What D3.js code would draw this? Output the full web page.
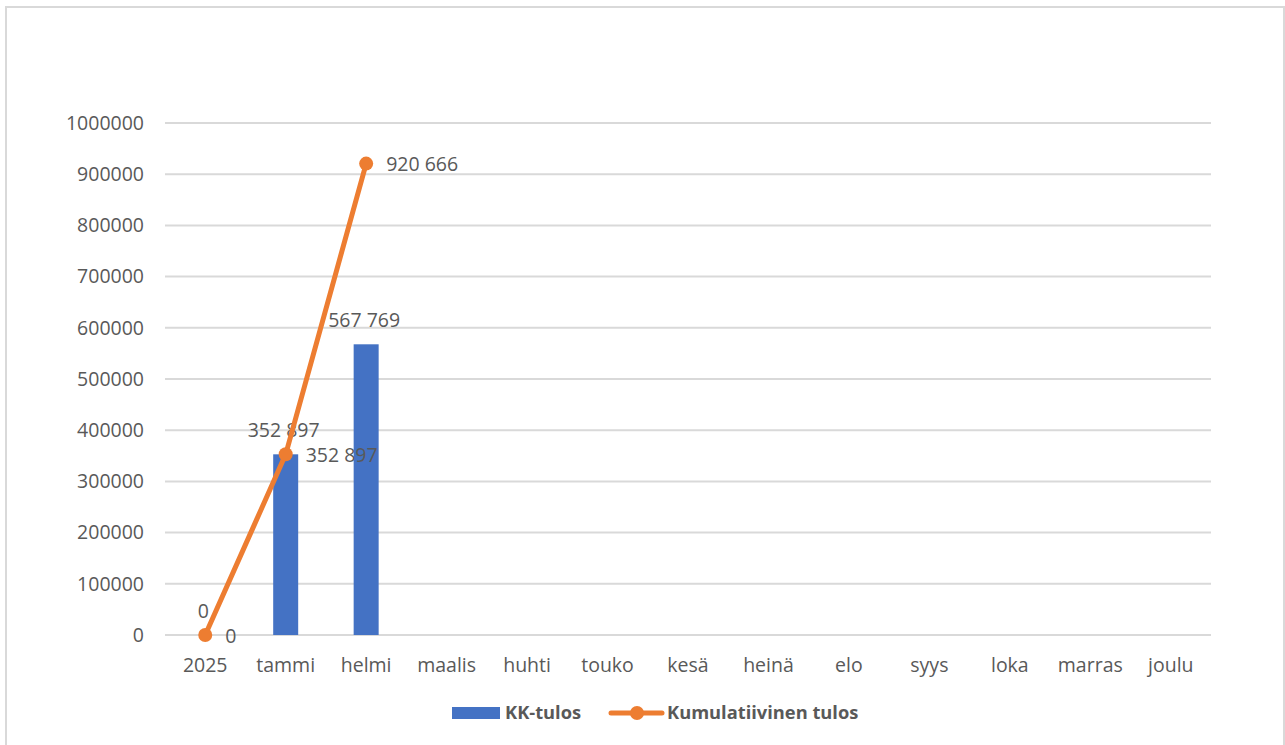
<!DOCTYPE html>
<html>
<head>
<meta charset="utf-8">
<script src="https://cdn.jsdelivr.net/npm/d3@7"></script>
<style>
  body { margin: 0; background: #fff; }
  text { font-family: "Open Sans", "Noto Sans", sans-serif; fill: #595959; }
</style>
</head>
<body>
<div id="chart"></div>
<script>
// data
const months = ["2025", "tammi", "helmi", "maalis", "huhti", "touko", "kesä", "heinä", "elo", "syys", "loka", "marras", "joulu"];
const kkTulos = [0, 352897, 567769, null, null, null, null, null, null, null, null, null, null];
const kumulatiivinen = [0, 352897, 920666, null, null, null, null, null, null, null, null, null, null];
const yTicks = [0, 100000, 200000, 300000, 400000, 500000, 600000, 700000, 800000, 900000, 1000000];

const W = 1285, H = 745;
const plot = { left: 165, right: 1211, top: 123, bottom: 635 };
const fontSize = "19.5px";

const svg = d3.select("#chart").append("svg")
  .attr("width", W)
  .attr("height", H);

// chart frame
svg.append("rect")
  .attr("x", 6).attr("y", 7)
  .attr("width", 1278).attr("height", 760)
  .attr("fill", "#fff")
  .attr("stroke", "#d9d9d9")
  .attr("stroke-width", 2);

const x = d3.scaleBand()
  .domain(months)
  .range([plot.left, plot.right])
  .padding(0);

const y = d3.scaleLinear()
  .domain([0, 1000000])
  .range([plot.bottom, plot.top]);

const fi = d3.formatLocale({ decimal: ",", thousands: " ", grouping: [3], currency: ["", " €"] });
const fmt = fi.format(",d");

// gridlines
svg.append("g")
  .selectAll("line")
  .data(yTicks)
  .join("line")
    .attr("x1", plot.left)
    .attr("x2", plot.right)
    .attr("y1", d => y(d))
    .attr("y2", d => y(d))
    .attr("stroke", "#d9d9d9")
    .attr("stroke-width", 2);

// y axis labels
svg.append("g")
  .selectAll("text")
  .data(yTicks)
  .join("text")
    .attr("x", 144)
    .attr("y", d => y(d))
    .attr("dy", "0.35em")
    .attr("text-anchor", "end")
    .style("font-size", fontSize)
    .text(d => d);

// x axis labels
svg.append("g")
  .selectAll("text")
  .data(months)
  .join("text")
    .attr("x", d => x(d) + x.bandwidth() / 2)
    .attr("y", 665)
    .attr("dy", "0.35em")
    .attr("text-anchor", "middle")
    .style("font-size", fontSize)
    .text(d => d);

const barW = 25;
const barData = months.map((m, i) => ({ m, v: kkTulos[i] })).filter(d => d.v !== null);
const lineData = months.map((m, i) => ({ m, v: kumulatiivinen[i] })).filter(d => d.v !== null);
const cx = d => x(d.m) + x.bandwidth() / 2;

// bars
svg.append("g")
  .selectAll("rect")
  .data(barData)
  .join("rect")
    .attr("x", d => cx(d) - barW / 2)
    .attr("y", d => y(d.v))
    .attr("width", barW)
    .attr("height", d => y(0) - y(d.v))
    .attr("fill", "#4472C4");

// bar labels
svg.append("g")
  .selectAll("text")
  .data(barData)
  .join("text")
    .attr("x", d => cx(d) - 2)
    .attr("y", d => y(d.v) - 24)
    .attr("dy", "0.35em")
    .attr("text-anchor", "middle")
    .style("font-size", fontSize)
    .text(d => fmt(d.v));

// cumulative line
const line = d3.line()
  .x(d => cx(d))
  .y(d => y(d.v));

svg.append("path")
  .datum(lineData)
  .attr("d", line)
  .attr("fill", "none")
  .attr("stroke", "#ED7D31")
  .attr("stroke-width", 5)
  .attr("stroke-linejoin", "round");

svg.append("g")
  .selectAll("circle")
  .data(lineData)
  .join("circle")
    .attr("cx", d => cx(d))
    .attr("cy", d => y(d.v))
    .attr("r", 7)
    .attr("fill", "#ED7D31");

// line labels (right of point)
svg.append("g")
  .selectAll("text")
  .data(lineData)
  .join("text")
    .attr("x", d => cx(d) + 20)
    .attr("y", d => y(d.v) + 1)
    .attr("dy", "0.35em")
    .attr("text-anchor", "start")
    .style("font-size", fontSize)
    .text(d => fmt(d.v));

// legend
const legend = svg.append("g");
legend.append("rect")
  .attr("x", 452).attr("y", 707)
  .attr("width", 48).attr("height", 12)
  .attr("fill", "#4472C4");
legend.append("text")
  .attr("x", 505).attr("y", 713)
  .attr("dy", "0.35em")
  .style("font-size", "18.3px")
  .style("font-weight", "bold")
  .text("KK-tulos");
legend.append("line")
  .attr("x1", 611).attr("x2", 662)
  .attr("y1", 713).attr("y2", 713)
  .attr("stroke", "#ED7D31")
  .attr("stroke-width", 5)
  .attr("stroke-linecap", "round");
legend.append("circle")
  .attr("cx", 637).attr("cy", 713)
  .attr("r", 7)
  .attr("fill", "#ED7D31");
legend.append("text")
  .attr("x", 667).attr("y", 713)
  .attr("dy", "0.35em")
  .style("font-size", "18.3px")
  .style("font-weight", "bold")
  .text("Kumulatiivinen tulos");
</script>
</body>
</html>
